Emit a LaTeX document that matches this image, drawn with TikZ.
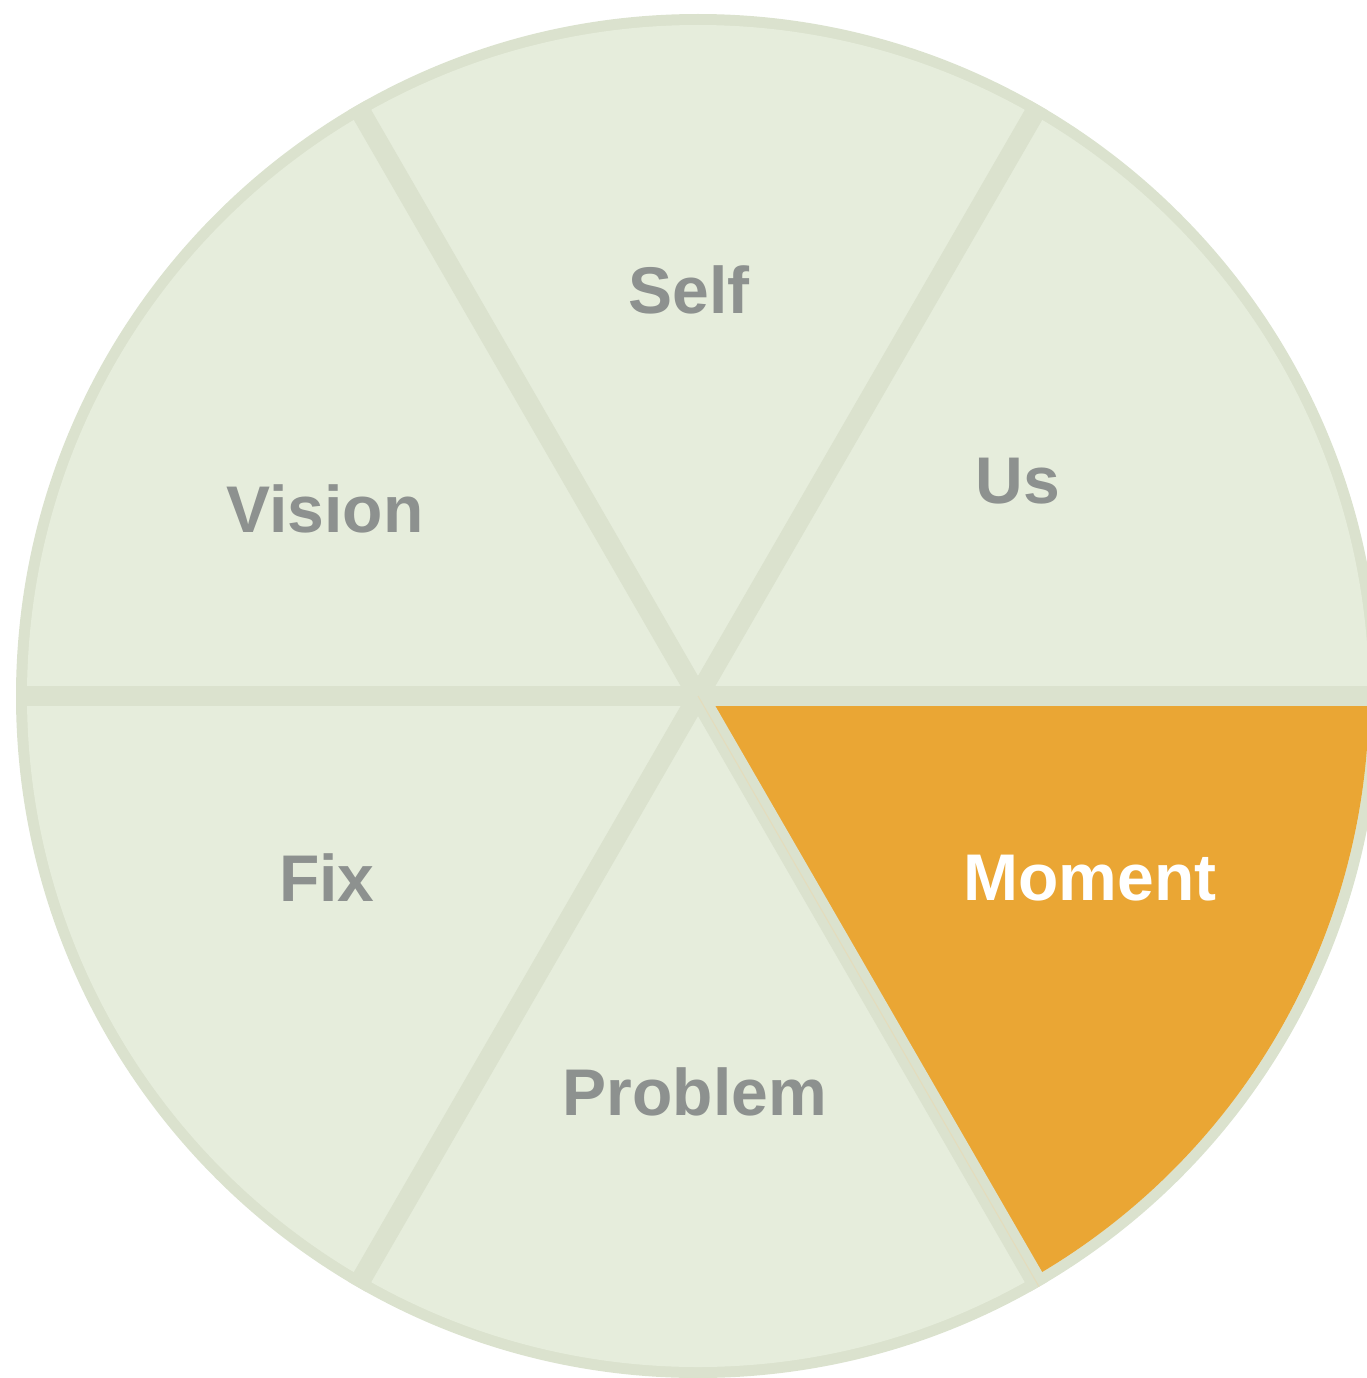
\documentclass[tikz,border=0pt]{standalone}
\usepackage{fontspec}
\setmainfont{Liberation Sans}
\usetikzlibrary{calc}
\definecolor{wedgefill}{HTML}{E6EDDC}
\definecolor{sepcol}{HTML}{DBE2CE}
\definecolor{momentcol}{HTML}{EAA634}
\definecolor{labelgrey}{HTML}{8D918F}
\definecolor{seamcol}{HTML}{E4DCBC}
\begin{document}
\begin{tikzpicture}[x=1pt,y=1pt,
  label/.style={anchor=base,inner sep=0pt,font=\fontsize{66}{70}\selectfont\bfseries,text=labelgrey},
  sepline/.style={draw=sepcol,line width=20pt,line cap=butt}]
\useasboundingbox (0,0) rectangle (1367,-1378);
\clip (0,0) rectangle (1367,-1378);
\coordinate (c) at (698,-696);
% ring (border colour)
\fill[sepcol] (c) circle[radius=682];
% inner disc
\fill[wedgefill] (c) circle[radius=671];
% highlighted wedge
\fill[momentcol] (c) -- ++(0:671) arc[start angle=0,end angle=-60,radius=671] -- cycle;
% separators
\draw[sepline] ($(c)+(0:682)$) -- ($(c)+(180:682)$);
\draw[sepline] ($(c)+(60:682)$) -- ($(c)+(240:682)$);
\draw[sepline] ($(c)+(120:682)$) -- ($(c)+(300:682)$);
\draw[seamcol,line width=1pt] (c) -- ($(c)+(300:682)$);
% labels
\node[label] (self) at (689,-313) {Self};
\node[label] (us) at (1018,-503) {Us};
\node[label] (vision) at (325,-532) {Vision};
\node[label] (fix) at (327,-901) {Fix};
\node[label] (problem) at (695,-1115) {Problem};
\node[label,text=white] (moment) at (1090,-900) {Moment};
\end{tikzpicture}
\end{document}
